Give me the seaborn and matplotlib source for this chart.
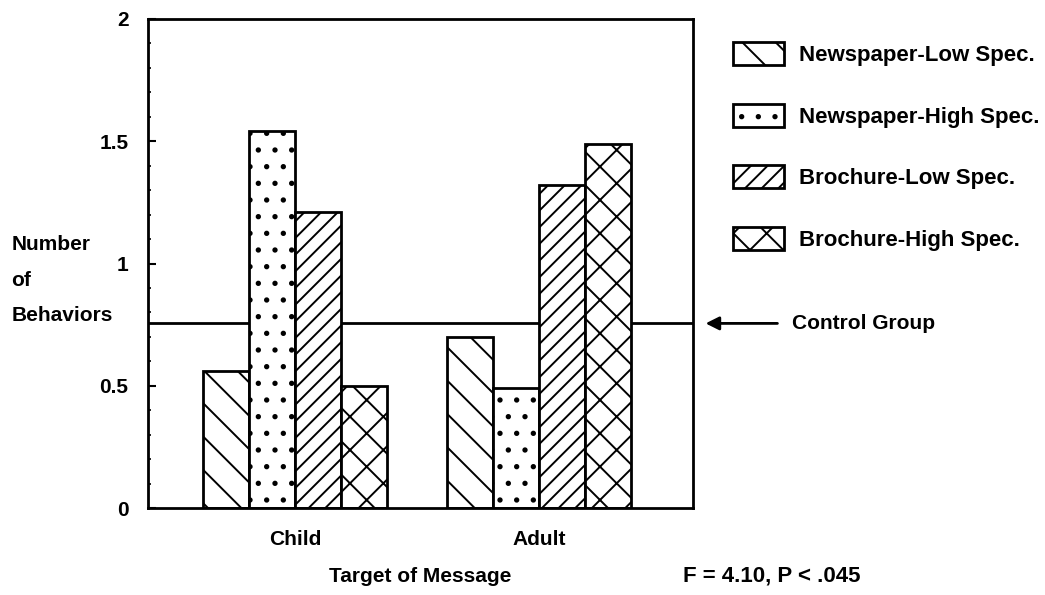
import matplotlib
matplotlib.use("Agg")
import matplotlib.pyplot as plt
from matplotlib.patches import Patch
from matplotlib.ticker import MultipleLocator
import pandas as pd
import seaborn as sns

# data
targets = ["Child", "Adult"]
conditions = ["Newspaper-Low Spec.", "Newspaper-High Spec.",
              "Brochure-Low Spec.", "Brochure-High Spec."]
child_values = [0.56, 1.54, 1.21, 0.50]
adult_values = [0.70, 0.49, 1.32, 1.49]
control_group = 0.755
y_ticks = [0, 0.5, 1, 1.5, 2]
y_tick_labels = ["0", "0.5", "1", "1.5", "2"]
hatches = ["\\", ".", "//", "x"]

df = pd.DataFrame({
    "target": [t for t in targets for _ in conditions],
    "condition": conditions * 2,
    "behaviors": child_values + adult_values,
})

sns.set_theme(style="white")
plt.rcParams["font.family"] = ["Liberation Sans", "DejaVu Sans"]
plt.rcParams["font.weight"] = "bold"
plt.rcParams["axes.labelweight"] = "bold"
for key in ["text.color", "axes.labelcolor", "xtick.color", "ytick.color"]:
    plt.rcParams[key] = "black"
plt.rcParams["hatch.linewidth"] = 1.4
plt.rcParams["hatch.color"] = "black"
FS = 15

fig = plt.figure(figsize=(10.45, 5.95), dpi=100)
ax = fig.add_axes([148 / 1045, 1 - 508 / 595, (693 - 148) / 1045, (508 - 19) / 595])

sns.barplot(data=df, x="target", y="behaviors", hue="condition",
            order=targets, hue_order=conditions, width=0.754,
            ax=ax, legend=False)
for cont, h in zip(ax.containers, hatches):
    for bar in cont:
        bar.set_facecolor("white")
        bar.set_edgecolor("black")
        bar.set_linewidth(2)
        bar.set_hatch(h)

# control group reference line, behind the bars
ax.axhline(control_group, color="black", lw=2, zorder=0.5)
ax.annotate("", xy=(1.018, control_group), xycoords=ax.get_yaxis_transform(),
            xytext=(1.16, control_group),
            arrowprops=dict(arrowstyle="-|>", color="black", lw=2, mutation_scale=20),
            annotation_clip=False)
ax.text(1.182, control_group, "Control Group", transform=ax.get_yaxis_transform(),
        ha="left", va="center", fontsize=FS)

ax.set_xlim(-0.604, 1.629)
ax.set_ylim(0, 2)
ax.set_yticks(y_ticks)
ax.set_yticklabels(y_tick_labels)
ax.yaxis.set_minor_locator(MultipleLocator(0.1))
ax.tick_params(axis="y", which="major", direction="in", length=6, width=1.5,
               pad=14, labelsize=FS, left=True)
ax.tick_params(axis="y", which="minor", direction="in", length=2.5, width=1.2, left=True)
ax.tick_params(axis="x", length=0, pad=16, labelsize=FS)

for s in ax.spines.values():
    s.set_color("black")
    s.set_linewidth(2)

ax.set_ylabel("Number\nof\nBehaviors", rotation=0, ha="left", va="center",
              linespacing=2.1, fontsize=FS, fontweight="bold")
ax.yaxis.set_label_coords(-0.251, 0.466)
ax.set_xlabel("Target of Message", fontsize=FS, fontweight="bold", va="center")
ax.xaxis.set_label_coords(0.5, -0.141)

fig.text(683 / 1045, 1 - 576 / 595, "F = 4.10, P < .045", ha="left", va="center",
         fontsize=16)

handles = [Patch(facecolor="white", edgecolor="black", hatch=h, lw=2) for h in hatches]
fig.legend(handles, conditions, loc="upper left", bbox_to_anchor=(722 / 1045, 1 - 31 / 595),
           frameon=False, prop={"size": 16, "weight": "bold"}, borderpad=0,
           handlelength=2.3, handleheight=1.2, labelspacing=1.7, handletextpad=0.65)

fig.savefig("out.png", dpi=100, facecolor="white")
